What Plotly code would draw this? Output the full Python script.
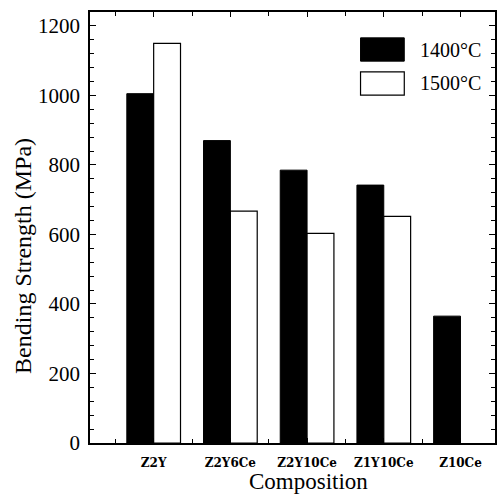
import plotly.graph_objects as go

categories = ["Z2Y", "Z2Y6Ce", "Z2Y10Ce", "Z1Y10Ce", "Z10Ce"]
strength_1400 = [1005, 870, 785, 742, 365]
strength_1500 = [1150, 667, 603, 652, None]
series_names = ["1400°C", "1500°C"]

pos = list(range(len(categories)))
W = 0.35
SERIF = "Liberation Serif"

fig = go.Figure()
fig.add_trace(go.Bar(x=pos, y=strength_1400, name=series_names[0], width=W, offset=-W,
                     marker=dict(color="black", line=dict(color="black", width=1)),
                     showlegend=False))
fig.add_trace(go.Bar(x=pos, y=strength_1500, name=series_names[1], width=W, offset=0,
                     marker=dict(color="white", line=dict(color="black", width=1.2)),
                     showlegend=False))

fig.update_layout(
    width=498, height=494,
    margin=dict(l=90, r=1, t=12, b=51),
    plot_bgcolor="white", paper_bgcolor="white",
    barmode="overlay",
    font=dict(family=SERIF, color="black"),
    xaxis=dict(
        range=[-0.83, 4.45], tickvals=pos, ticktext=categories,
        ticks="inside", ticklen=5, tickwidth=1, tickcolor="black",
        showline=True, linecolor="black", linewidth=1.5, mirror="allticks",
        showgrid=False, zeroline=False,
        tickfont=dict(family="DejaVu Serif", size=12, color="black", weight="bold"),
        ticklabelstandoff=8,
        minor=dict(tickvals=[p + 0.5 for p in [-1] + pos], ticks="inside", ticklen=4,
                   tickcolor="black", showgrid=False),
    ),
    yaxis=dict(
        range=[0, 1240], tick0=0, dtick=200,
        ticks="inside", ticklen=6, tickwidth=1, tickcolor="black",
        showline=True, linecolor="black", linewidth=1.5, mirror="allticks",
        showgrid=False, zeroline=False,
        tickfont=dict(family=SERIF, size=21, color="black"),
        ticklabelstandoff=4,
        minor=dict(dtick=40, ticks="inside", ticklen=4, tickcolor="black", showgrid=False),
    ),
    annotations=[
        dict(text="Bending Strength (MPa)", xref="paper", yref="paper", x=0, y=0.434,
             xshift=-67, textangle=-90, showarrow=False, xanchor="center", yanchor="middle",
             font=dict(family=SERIF, size=24, color="black")),
        dict(text="Composition", xref="paper", yref="paper", x=0.54, y=0, yshift=-38,
             showarrow=False, xanchor="center", yanchor="middle",
             font=dict(family=SERIF, size=23, color="black")),
        dict(text=series_names[0], xref="paper", yref="paper", x=0.811, y=0.912,
             showarrow=False, xanchor="left", yanchor="middle",
             font=dict(family=SERIF, size=20, color="black")),
        dict(text=series_names[1], xref="paper", yref="paper", x=0.811, y=0.835,
             showarrow=False, xanchor="left", yanchor="middle",
             font=dict(family=SERIF, size=20, color="black")),
    ],
    shapes=[
        dict(type="rect", xref="paper", yref="paper", x0=0.668, x1=0.776, y0=0.886, y1=0.940,
             fillcolor="black", line=dict(color="black", width=1)),
        dict(type="rect", xref="paper", yref="paper", x0=0.668, x1=0.776, y0=0.807, y1=0.861,
             fillcolor="white", line=dict(color="black", width=1.2)),
    ],
)

fig.write_html("out.html")
